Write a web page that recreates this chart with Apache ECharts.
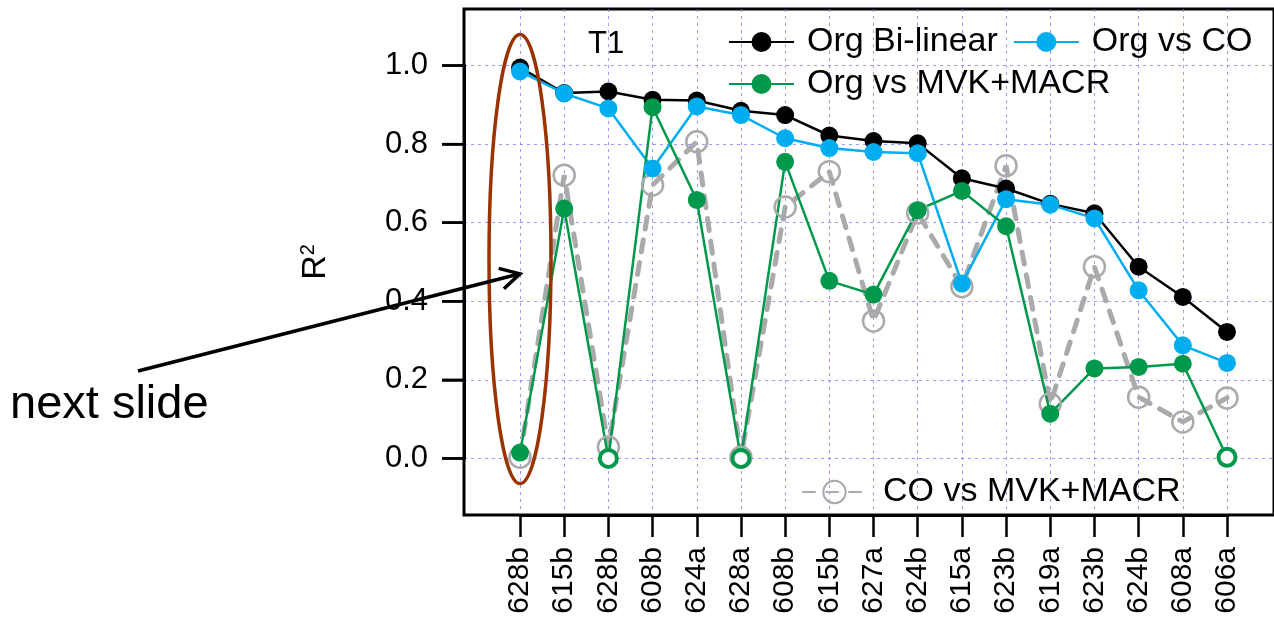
<!DOCTYPE html>
<html>
<head>
<meta charset="utf-8">
<script src="https://cdn.jsdelivr.net/npm/echarts@6/dist/echarts.min.js"></script>
<style>
  html, body { margin: 0; padding: 0; background: #fff; }
  #chart { width: 1274px; height: 623px; }
</style>
</head>
<body>
<div id="chart"></div>
<script>
// samples along the x axis
const categories = ["628b", "615b", "628b", "608b", "624a", "628a", "608b", "615b", "627a",
  "624b", "615a", "623b", "619a", "623b", "624b", "608a", "606a"];

// R^2 values
const orgBilinear = [0.995, 0.93, 0.934, 0.913, 0.911, 0.885, 0.874, 0.822, 0.808,
  0.802, 0.713, 0.687, 0.648, 0.624, 0.488, 0.411, 0.322];
const orgVsCO = [0.985, 0.929, 0.891, 0.738, 0.896, 0.874, 0.815, 0.79, 0.78,
  0.777, 0.445, 0.66, 0.646, 0.611, 0.428, 0.288, 0.243];
const orgVsMVK = [0.015, 0.636, 0.0, 0.894, 0.658, 0.0, 0.755, 0.452, 0.417,
  0.632, 0.681, 0.591, 0.114, 0.229, 0.233, 0.241, 0.003];
const coVsMVK = [0.003, 0.721, 0.029, 0.696, 0.806, 0.003, 0.64, 0.73, 0.35,
  0.625, 0.437, 0.745, 0.139, 0.488, 0.156, 0.093, 0.154];
// points drawn as open green circles
const hollowIdx = [2, 5, 16];

// y ticks run 0.0 .. 1.0 by 0.2; the frame shows a little more than that
const yTicks = [0, 0.2, 0.4, 0.6, 0.8, 1.0];
const yTickMin = 0, yTickMax = 1, yTickStep = 0.2;
const yMin = -0.144, yMax = 1.144;

const FONT = "Liberation Sans";
const BLUE = "#00aef0", GREEN = "#00994c", GRAY = "#aaaaaa", BROWN = "#993300";
const gridLine = { show: true, lineStyle: { color: "rgba(120,120,250,0.75)", width: 1, type: [3, 4] } };

// frame of the plot (pixels) and the band holding the 0..1 ticks
const frameLeft = 464, frameTop = 9, frameBottom = 515, H = 623;
const ppu = (frameBottom - frameTop) / (yMax - yMin);
const tickTop = frameTop + (yMax - yTickMax) * ppu;
const tickBottom = H - (frameBottom + (yMin - yTickMin) * ppu);

const chart = echarts.init(document.getElementById("chart"));

const greenData = orgVsMVK.map((v, i) =>
  hollowIdx.includes(i)
    ? { value: v, itemStyle: { color: "#fff", borderColor: GREEN, borderWidth: 4 }, symbolSize: 17 }
    : v
);

chart.setOption({
  animation: false,
  backgroundColor: "#fff",
  textStyle: { fontFamily: FONT },
  grid: [
    { left: frameLeft, top: frameTop, right: -20, bottom: H - frameBottom, show: true, borderColor: "#000", borderWidth: 3 },
    { left: 520, top: frameTop, right: 47, bottom: H - frameBottom },
    { left: frameLeft, top: tickTop, right: -20, bottom: tickBottom }
  ],
  xAxis: [
    { gridIndex: 0, type: "value", show: false, min: 0, max: 1 },
    {
      gridIndex: 1, type: "category", data: categories, boundaryGap: false, position: "bottom",
      axisLine: { show: true, onZero: false, lineStyle: { color: "#000", width: 3 } },
      axisTick: { show: true, interval: 0, length: 22, lineStyle: { color: "#000", width: 2.5 } },
      axisLabel: { interval: 0, rotate: 90, fontSize: 30, color: "#000", fontFamily: FONT, margin: 32 },
      splitLine: Object.assign({ interval: 0 }, gridLine)
    },
    { gridIndex: 2, type: "value", show: false, min: 0, max: 1 }
  ],
  yAxis: [
    { gridIndex: 0, type: "value", show: false, min: 0, max: 1 },
    { gridIndex: 1, type: "value", min: yMin, max: yMax, show: false },
    {
      gridIndex: 2, type: "value", position: "left", min: yTickMin, max: yTickMax, interval: yTickStep,
      axisLine: { show: true, onZero: false, lineStyle: { color: "#000", width: 3 } },
      axisTick: { show: true, length: 22, lineStyle: { color: "#000", width: 2.5 } },
      axisLabel: { fontSize: 31, color: "#000", fontFamily: FONT, margin: 36, formatter: v => v.toFixed(1) },
      splitLine: gridLine,
      name: "{r|R}{s|2}", nameLocation: "middle", nameRotate: 90, nameGap: 130,
      nameTextStyle: {
        rich: {
          r: { fontSize: 34, color: "#000", fontFamily: FONT },
          s: { fontSize: 20, color: "#000", fontFamily: FONT, verticalAlign: "bottom", padding: [0, 0, 16, 0] }
        }
      }
    }
  ],
  legend: [
    {
      data: ["Org Bi-linear", "Org vs CO"], left: 723, top: 20, itemWidth: 65, itemHeight: 25, itemGap: 15,
      textStyle: { fontSize: 34, color: "#000", fontFamily: FONT, padding: [0, 0, 0, 8] }, selectedMode: false
    },
    {
      data: ["Org vs MVK+MACR"], left: 723, top: 62, itemWidth: 65, itemHeight: 25,
      textStyle: { fontSize: 34, color: "#000", fontFamily: FONT, padding: [0, 0, 0, 8] }, selectedMode: false
    },
    {
      data: ["CO vs MVK+MACR"], left: 797, top: 470, itemWidth: 63, itemHeight: 28,
      textStyle: { fontSize: 34, color: "#000", fontFamily: FONT, padding: [0, 0, 0, 12] }, selectedMode: false
    }
  ],
  series: [
    {
      name: "CO vs MVK+MACR", type: "line", xAxisIndex: 1, yAxisIndex: 1, data: coVsMVK,
      symbol: "circle", symbolSize: 21,
      itemStyle: { color: "rgba(255,255,255,0)", borderColor: GRAY, borderWidth: 2.5 },
      lineStyle: { color: GRAY, width: 5, type: [12, 11], cap: "round" }
    },
    {
      name: "Org Bi-linear", type: "line", xAxisIndex: 1, yAxisIndex: 1, data: orgBilinear,
      symbol: "circle", symbolSize: 18, itemStyle: { color: "#000" },
      lineStyle: { color: "#000", width: 2.5 }
    },
    {
      name: "Org vs CO", type: "line", xAxisIndex: 1, yAxisIndex: 1, data: orgVsCO,
      symbol: "circle", symbolSize: 18, itemStyle: { color: BLUE },
      lineStyle: { color: BLUE, width: 2.5 }
    },
    {
      name: "Org vs MVK+MACR", type: "line", xAxisIndex: 1, yAxisIndex: 1, data: greenData,
      symbol: "circle", symbolSize: 18, itemStyle: { color: GREEN },
      lineStyle: { color: GREEN, width: 2.5 }
    }
  ]
});

// annotations placed from the data coordinates of the first sample
const finder = { xAxisIndex: 1, yAxisIndex: 1 };
const ellTop = chart.convertToPixel(finder, [0, 1.079]);
const ellBot = chart.convertToPixel(finder, [0, -0.064]);
const tip = chart.convertToPixel(finder, [0, 0.47]);
const start = [138, 371];
const ang = Math.atan2(tip[1] - start[1], tip[0] - start[0]);
const head = 22, spread = 0.5;
const arm1 = [tip[0] - head * Math.cos(ang - spread), tip[1] - head * Math.sin(ang - spread)];
const arm2 = [tip[0] - head * Math.cos(ang + spread), tip[1] - head * Math.sin(ang + spread)];

// y tick marks outside the frame, placed through the value axis
const tickMarks = yTicks.map(v => {
  const y = chart.convertToPixel(finder, [0, v])[1];
  return { type: "line", z: 50, shape: { x1: frameLeft - 22, y1: y, x2: frameLeft, y2: y },
    style: { stroke: "#000", lineWidth: 2.5 } };
});

chart.setOption({
  graphic: tickMarks.concat([
    { type: "text", left: 588, top: 29, style: { text: "T1", fontSize: 31, fontFamily: FONT, fill: "#000" } },
    { type: "text", left: 10, top: 382, style: { text: "next slide", fontSize: 47, fontFamily: FONT, fill: "#000" } },
    {
      type: "ellipse", z: 100,
      shape: { cx: ellTop[0], cy: (ellTop[1] + ellBot[1]) / 2, rx: 31, ry: (ellBot[1] - ellTop[1]) / 2 },
      style: { fill: "none", stroke: BROWN, lineWidth: 3.5 }
    },
    { type: "line", z: 100, shape: { x1: start[0], y1: start[1], x2: tip[0], y2: tip[1] },
      style: { stroke: "#000", lineWidth: 3.5 } },
    { type: "polyline", z: 100, shape: { points: [arm1, tip, arm2] },
      style: { fill: "none", stroke: "#000", lineWidth: 3.5 } }
  ])
});
</script>
</body>
</html>
